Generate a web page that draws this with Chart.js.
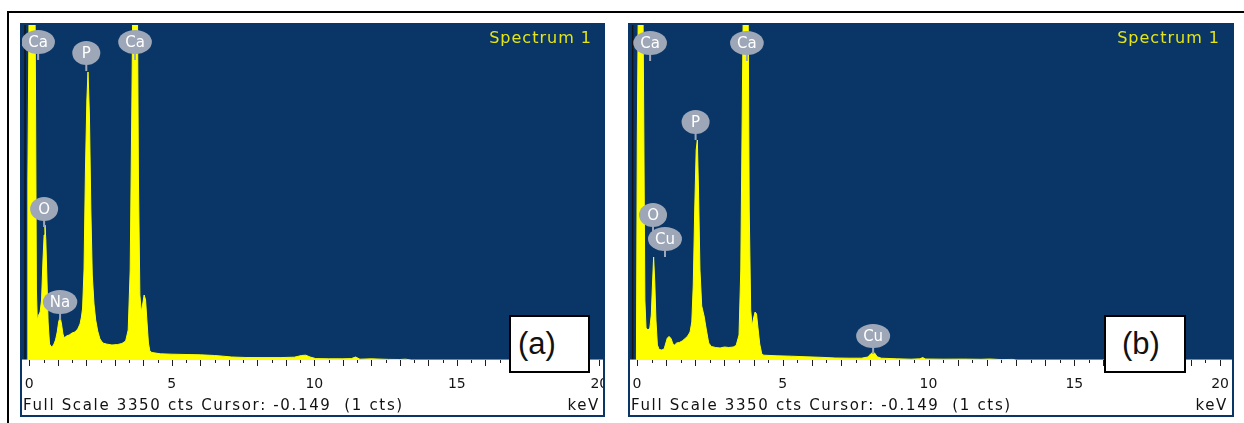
<!DOCTYPE html>
<html>
<head>
<meta charset="utf-8">
<script src="https://cdn.jsdelivr.net/npm/chart.js@4.4.1/dist/chart.umd.min.js"></script>
<style>
  html, body { margin: 0; padding: 0; background: #fff; }
  body { width: 1244px; height: 423px; position: relative; overflow: hidden; font-family: "DejaVu Sans", sans-serif; }
  .rule-top { position: absolute; left: 7px; top: 11px; width: 1237px; height: 2px; background: #000; }
  .rule-left { position: absolute; left: 7px; top: 11px; width: 2px; height: 412px; background: #000; }
  .panel { position: absolute; top: 23px; height: 390px; border: 2px solid #093667; background: #fff; }
  .panel canvas { position: absolute; left: 0; top: 0; }
  .spec { position: absolute; top: 5px; font-size: 16px; line-height: 16px; letter-spacing: 1px; color: #e6e612; }
  .foot { position: absolute; top: 372px; font-size: 15px; line-height: 16px; letter-spacing: 1.65px; color: #111; white-space: pre; }
  .tag { position: absolute; top: 315px; height: 54px; border: 2px solid #000; background: #fff;
         font-family: "Liberation Sans", Arial, sans-serif; font-size: 31px; line-height: 54px; color: #111; }
</style>
</head>
<body>
<div class="rule-top"></div>
<div class="rule-left"></div>

<div class="panel" style="left:20px;width:581px;">
  <canvas id="specA" width="581" height="390"></canvas>
  <div class="spec" style="right:11px;">Spectrum 1</div>
  <div class="foot" style="left:1px;">Full Scale 3350 cts Cursor: -0.149  (1 cts)</div>
  <div class="foot" style="right:3px;">keV</div>
</div>
<div class="panel" style="left:628px;width:602px;">
  <canvas id="specB" width="602" height="390"></canvas>
  <div class="spec" style="right:12px;">Spectrum 1</div>
  <div class="foot" style="left:1px;">Full Scale 3350 cts Cursor: -0.149  (1 cts)</div>
  <div class="foot" style="right:4px;">keV</div>
</div>

<div class="tag" style="left:509px;width:70px;padding-left:7px;">(a)</div>
<div class="tag" style="left:1104px;width:62px;padding-left:16px;">(b)</div>

<script>
// spectrum (a): energy in keV, counts (full scale 3350 cts)
const keVA = [-0.26, -0.08, -0.05, 0.00, 0.05, 0.12, 0.18, 0.22, 0.25, 0.28,
  0.33, 0.38, 0.43, 0.48, 0.52, 0.55, 0.58, 0.62, 0.66, 0.71,
  0.78, 0.85, 0.92, 0.98, 1.03, 1.08, 1.13, 1.18, 1.23, 1.30,
  1.40, 1.50, 1.60, 1.70, 1.78, 1.83, 1.87, 1.92, 1.97, 2.02,
  2.06, 2.11, 2.16, 2.21, 2.27, 2.33, 2.40, 2.48, 2.58, 2.70,
  2.90, 3.10, 3.25, 3.38, 3.47, 3.54, 3.60, 3.66, 3.72, 3.78,
  3.83, 3.88, 3.93, 3.98, 4.03, 4.08, 4.13, 4.18, 4.23, 4.30,
  4.60, 5.00, 5.50, 6.00, 6.50, 6.80, 7.10, 7.60, 8.20, 8.80,
  9.30, 9.55, 9.70, 9.85, 10.05, 10.50, 11.00, 11.30, 11.45, 11.60,
  12.00, 12.20, 12.60, 13.00, 13.20, 13.40, 20.20];
const ctsA = [0, 0, 1800, 3800, 5000, 5200, 4600, 2600, 700, 400,
  450, 480, 600, 1000, 1250, 1350, 1200, 800, 380, 160,
  130, 150, 200, 280, 380, 430, 360, 260, 220, 240,
  250, 270, 280, 310, 360, 430, 520, 900, 1900, 2600,
  2880, 2450, 1500, 850, 560, 400, 290, 210, 170, 160,
  150, 155, 165, 190, 300, 900, 2600, 4500, 5200, 4300,
  1800, 650, 480, 560, 650, 600, 380, 170, 90, 75,
  62, 58, 55, 52, 45, 38, 30, 25, 24, 24,
  28, 45, 48, 30, 14, 12, 12, 14, 30, 8,
  12, 10, 6, 5, 8, 0, 0];

// spectrum (b)
const keVB = [-0.25, -0.02, 0.01, 0.06, 0.12, 0.18, 0.23, 0.27, 0.31, 0.38,
  0.44, 0.49, 0.53, 0.57, 0.61, 0.65, 0.70, 0.76, 0.85, 0.93,
  0.99, 1.04, 1.10, 1.17, 1.23, 1.29, 1.36, 1.45, 1.55, 1.65,
  1.74, 1.82, 1.88, 1.93, 1.98, 2.03, 2.07, 2.11, 2.16, 2.22,
  2.30, 2.38, 2.46, 2.55, 2.70, 2.85, 3.00, 3.15, 3.30, 3.40,
  3.50, 3.56, 3.62, 3.68, 3.74, 3.80, 3.85, 3.90, 3.95, 4.00,
  4.05, 4.10, 4.15, 4.21, 4.28, 4.35, 4.80, 5.30, 5.80, 6.30,
  6.80, 7.30, 7.70, 7.92, 8.02, 8.08, 8.15, 8.24, 8.38, 8.90,
  9.40, 9.70, 9.80, 9.90, 10.50, 11.20, 11.80, 12.10, 12.50, 12.90,
  13.00, 20.50];
const ctsB = [0, 0, 2200, 4200, 5200, 4600, 2500, 600, 320, 300,
  320, 450, 750, 1030, 780, 400, 150, 105, 100, 110,
  170, 220, 235, 215, 160, 150, 170, 175, 190, 215,
  240, 280, 380, 750, 1500, 2100, 2200, 1700, 900, 540,
  440, 300, 170, 135, 125, 120, 130, 125, 130, 145,
  250, 900, 2800, 4500, 5200, 4200, 1500, 500, 340, 420,
  480, 460, 320, 160, 60, 48, 42, 38, 32, 27,
  20, 18, 18, 30, 62, 75, 70, 32, 18, 12,
  8, 12, 24, 10, 8, 9, 7, 10, 4, 6,
  0, 0];

// peak markers: element, energy (keV), counts where the stem ends
const peakElA = ['Ca', 'P', 'Ca', 'O', 'Na'];
const peakKeVA = [0.31, 2.0, 3.71, 0.52, 1.08];
const peakCtsA = [3000, 2890, 3000, 1330, 400];

const peakElB = ['Ca', 'Ca', 'P', 'O', 'Cu', 'Cu'];
const peakKeVB = [0.45, 3.77, 2.01, 0.55, 0.96, 8.1];
const peakCtsB = [2990, 2990, 2200, 1270, 1030, 60];

const FULL_SCALE = 3350;
const CURSOR_KEV = -0.149;
const labelledTicks = [0, 5, 10, 15, 20];

const tickValues = [];
for (let v = 0; v <= 20; v += 0.5) tickValues.push(v);

const PLOT_BG = '#093667';
const BLOB = '#9ea7b8';

const edsDecor = {
  id: 'edsDecor',
  beforeDraw(chart) {
    const { ctx, chartArea: a } = chart;
    ctx.save();
    ctx.fillStyle = PLOT_BG;
    ctx.fillRect(a.left, a.top, a.right - a.left, a.bottom - a.top);
    ctx.restore();
  },
  beforeDatasetsDraw(chart) {
    const { ctx, chartArea: a, scales: { x } } = chart;
    const cx = x.getPixelForValue(CURSOR_KEV);
    ctx.save();
    ctx.strokeStyle = '#141414';
    ctx.lineWidth = 1.5;
    ctx.beginPath();
    ctx.moveTo(cx, a.top);
    ctx.lineTo(cx, a.bottom);
    ctx.stroke();
    ctx.restore();
  },
  afterDatasetsDraw(chart, args, opts) {
    const { ctx, scales: { x, y } } = chart;
    ctx.save();
    ctx.font = '15px "DejaVu Sans"';
    ctx.textAlign = 'center';
    ctx.textBaseline = 'middle';
    opts.peaks.forEach(p => {
      const px = x.getPixelForValue(p.keV);
      const py = y.getPixelForValue(p.cts);
      const w = ctx.measureText(p.el).width;
      const rx = Math.max(14, w / 2 + 7), ry = 12;
      const cy = py - 18;
      ctx.strokeStyle = BLOB;
      ctx.lineWidth = 2;
      ctx.beginPath();
      ctx.moveTo(px, cy + ry - 1);
      ctx.lineTo(px, py);
      ctx.stroke();
      ctx.fillStyle = BLOB;
      ctx.beginPath();
      ctx.ellipse(px, cy, rx, ry, 0, 0, Math.PI * 2);
      ctx.fill();
      ctx.fillStyle = '#fff';
      ctx.fillText(p.el, px, cy + 1);
    });
    ctx.restore();
  },
  afterDraw(chart) {
    // tick marks hanging below the plot: long at whole keV, short at halves
    const { ctx, chartArea: a, scales: { x } } = chart;
    ctx.save();
    ctx.strokeStyle = '#1e1e1e';
    ctx.lineWidth = 1;
    x.ticks.forEach(t => {
      const px = Math.round(x.getPixelForValue(t.value)) + 0.5;
      const len = Number.isInteger(t.value) ? 6 : 3;
      ctx.beginPath();
      ctx.moveTo(px, a.bottom);
      ctx.lineTo(px, a.bottom + len);
      ctx.stroke();
    });
    ctx.restore();
  }
};

function makeSpectrum(id, keV, cts, els, pkKeV, pkCts, xMin, xMax) {
  const peaks = els.map((el, i) => ({ el, keV: pkKeV[i], cts: pkCts[i] }));
  return new Chart(document.getElementById(id), {
    type: 'line',
    data: {
      datasets: [{
        data: keV.map((e, i) => ({ x: e, y: cts[i] })),
        borderColor: '#ffff00',
        backgroundColor: '#ffff00',
        borderWidth: 1,
        fill: 'origin',
        pointRadius: 0,
        tension: 0
      }]
    },
    options: {
      responsive: false,
      animation: false,
      events: [],
      layout: { padding: 0 },
      plugins: {
        legend: { display: false },
        tooltip: { enabled: false },
        edsDecor: { peaks }
      },
      scales: {
        x: {
          type: 'linear',
          min: xMin,
          max: xMax,
          afterBuildTicks: s => { s.ticks = tickValues.map(v => ({ value: v })); },
          afterFit: s => { s.height = 55; s.paddingLeft = 0; s.paddingRight = 0; },
          grid: { display: false, drawTicks: false },
          border: { display: false },
          ticks: {
            autoSkip: false,
            maxRotation: 0,
            padding: 16,
            color: '#151515',
            font: { family: 'DejaVu Sans', size: 14 },
            callback: v => labelledTicks.includes(v) ? String(v) : ''
          }
        },
        y: { min: 0, max: FULL_SCALE, display: false }
      }
    },
    plugins: [edsDecor]
  });
}

makeSpectrum('specA', keVA, ctsA, peakElA, peakKeVA, peakCtsA, -0.256, 20.13);
makeSpectrum('specB', keVB, ctsB, peakElB, peakKeVB, peakCtsB, -0.24, 20.41);
</script>
</body>
</html>
